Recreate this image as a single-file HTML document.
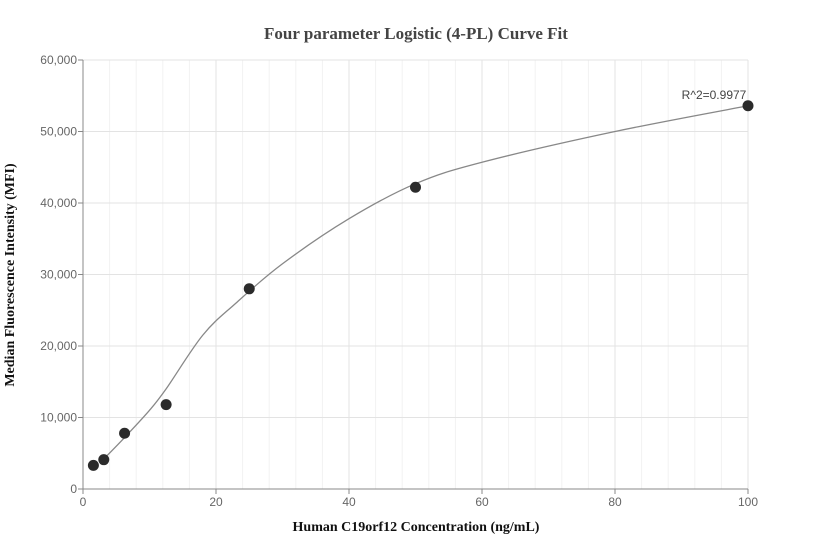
<!DOCTYPE html>
<html><head><meta charset="utf-8"><style>
body{margin:0;background:#fff;}
svg{display:block;font-family:"Liberation Sans",sans-serif;}
</style></head><body>
<svg id="chart" width="832" height="560">
<text x="416" y="39" text-anchor="middle" font-family="Liberation Serif" font-weight="bold" font-size="17" fill="#444">Four parameter Logistic (4-PL) Curve Fit</text>
<text x="416" y="531" text-anchor="middle" font-family="Liberation Serif" font-weight="bold" font-size="14" fill="#111">Human C19orf12 Concentration (ng/mL)</text>
<text transform="translate(14,275) rotate(-90)" text-anchor="middle" font-family="Liberation Serif" font-weight="bold" font-size="14" fill="#111">Median Fluorescence Intensity (MFI)</text>
<g id="grid"></g><g id="axes"></g><g id="marks"></g>
</svg>
<script>
const xTicks=[0,20,40,60,80,100];
const yTicks=[0,10000,20000,30000,40000,50000,60000];
const yTickLabels=["0","10,000","20,000","30,000","40,000","50,000","60,000"];
const pointX=[1.5625,3.125,6.25,12.5,25,50,100];
const pointY=[3300,4100,7800,11800,28000,42200,53600];
const curveX=[3.125,6.25,10,12.5,18,23,30,40,50,60,80,100];
const curveY=[4200,7200,11000,14000,21500,26000,31500,37800,42700,45700,50000,53600];
const rLabel="R^2=0.9977";
const L=83,R=748,T=60,B=489;
const sx=v=>L+v/100*(R-L), sy=v=>B-v/60000*(B-T);
const NS="http://www.w3.org/2000/svg";
function mk(tag,attrs,parent,txt){const e=document.createElementNS(NS,tag);for(const k in attrs)e.setAttribute(k,attrs[k]);if(txt!==undefined)e.textContent=txt;document.getElementById(parent).appendChild(e);return e;}
for(let v=4;v<100;v+=4){if(v%20===0)continue;
const g=mk('line',{x1:sx(v),x2:sx(v),y1:T,y2:B,stroke:'#f2f2f2','stroke-width':1},'grid');

}
xTicks.forEach(v=>{
const g=mk('line',{x1:sx(v),x2:sx(v),y1:T,y2:B,stroke:'#e3e3e3','stroke-width':1},'grid');


const t=mk('text',{x:sx(v),y:B+17,'text-anchor':'middle','font-size':12,fill:'#666'},'axes',String(v));


const k=mk('line',{x1:sx(v),x2:sx(v),y1:B,y2:B+5,stroke:'#888'},'axes');

});
yTicks.forEach((v,i)=>{
const g=mk('line',{x1:L,x2:R,y1:sy(v),y2:sy(v),stroke:'#e3e3e3','stroke-width':1},'grid');


const t=mk('text',{x:L-6,y:sy(v)+4,'text-anchor':'end','font-size':12,fill:'#666'},'axes',yTickLabels[i]);


const k=mk('line',{x1:L-5,x2:L,y1:sy(v),y2:sy(v),stroke:'#888'},'axes');

});
const ax=mk('path',{d:`M${L},${T}V${B}H${R}`,fill:'none',stroke:'#888','stroke-width':1},'axes');


const P=curveX.map((x,i)=>[sx(x),sy(curveY[i])]);
let d=`M${P[0][0]},${P[0][1]}`;
for(let i=0;i<P.length-1;i++){const p0=P[i-1]||P[i],p1=P[i],p2=P[i+1],p3=P[i+2]||p2;
d+=`C${p1[0]+(p2[0]-p0[0])/6},${p1[1]+(p2[1]-p0[1])/6} ${p2[0]-(p3[0]-p1[0])/6},${p2[1]-(p3[1]-p1[1])/6} ${p2[0]},${p2[1]}`;}
const c=mk('path',{d:d,fill:'none',stroke:'#888','stroke-width':1.3},'marks');


pointX.forEach((x,i)=>{
const p=mk('circle',{cx:sx(x),cy:sy(pointY[i]),r:5.5,fill:'#2b2b2b'},'marks');

});
const last=pointX.length-1;
const r=mk('text',{x:sx(pointX[last])-34,y:sy(pointY[last])-7,'text-anchor':'middle','font-size':12,fill:'#444'},'marks',rLabel);


</script>
</body></html>
